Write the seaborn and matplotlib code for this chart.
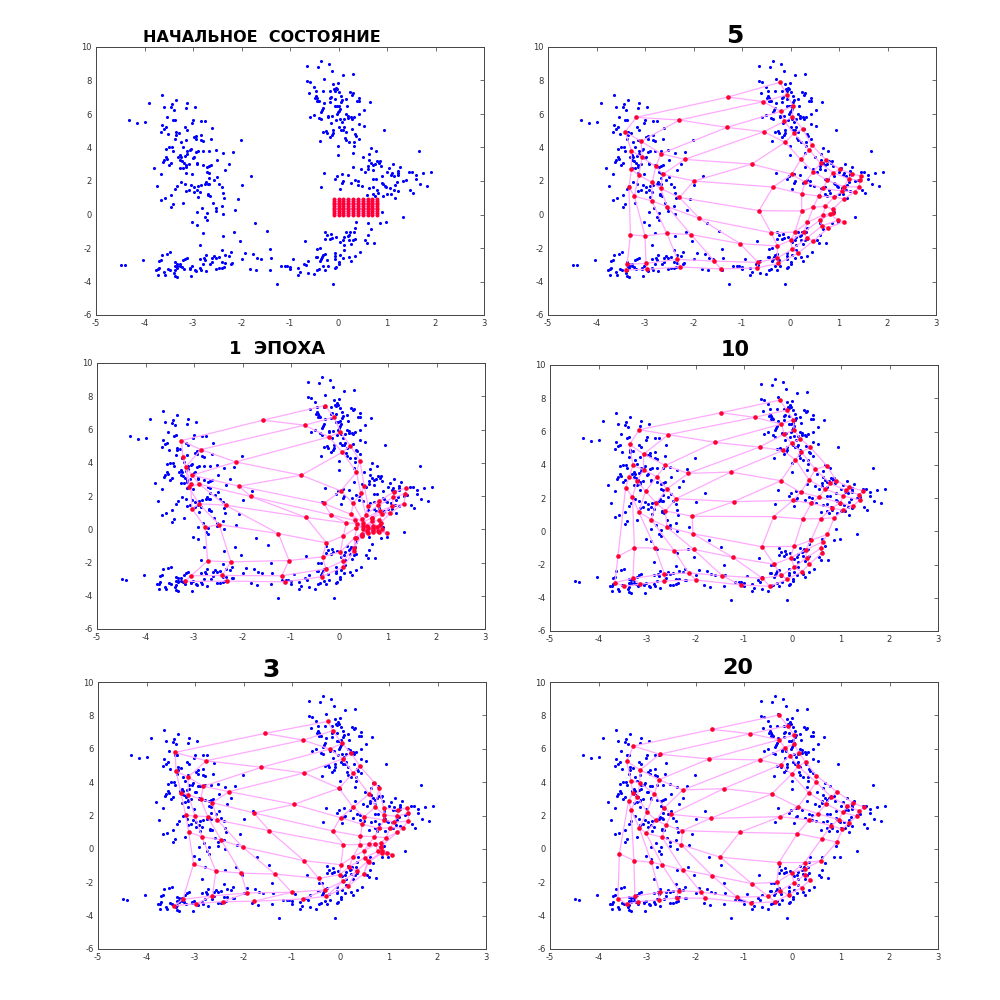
import pandas as pd
import numpy as np
import matplotlib
matplotlib.use("Agg")
import matplotlib.pyplot as plt
import seaborn as sns

# blue samples
blob_left = [(-3.63,7.14),(-3.91,6.64),(-3.36,6.86),(-3.59,6.44),(-3.43,6.6),(-3.45,6.4),(-3.39,6.26),(-3.13,6.64),(-3.15,6.36),(-2.95,6.44),
(-3.53,5.84),(-4.32,5.62),(-4.15,5.44),(-3.99,5.5),(-3.41,5.62),(-3.38,5.64),(-3.64,5.36),(-3.55,5.2),(-3.59,5.1),(-3.66,4.94),
(-3.51,4.78),(-3.36,4.9),(-3.36,4.74),(-3.29,4.84),(-3.16,5.2),(-3.12,5.06),(-3.03,5.46),(-3,5.64),(-2.84,5.6),(-2.76,5.6),
(-2.61,5.16),(-2.93,4.7),(-2.84,4.76),(-2.98,4.6),(-2.94,4.5),(-2.84,4.42),(-2.79,4.36),(-2.63,4.5),(-3.37,4.48),(-3.14,4.44),
(-3.24,4.3),(-3.2,4.04),(-2.01,4.42),(-3.5,4),(-3.43,4),(-3.55,3.9),(-3.42,3.8),(-3.05,3.94),(-3.07,3.84),(-3.12,3.8),
(-2.93,3.76),(-2.89,3.78),(-2.79,3.82),(-2.68,3.8),(-2.52,3.88),(-2.38,3.7),(-2.18,3.74),(-3.56,3.46),(-3.53,3.34),(-3.6,3.26),
(-3.61,3.14),(-3.31,3.44),(-3.27,3.56),(-3.24,3.46),(-3.17,3.5),(-3.13,3.6),(-3.27,3.26),(-3.23,3.2),(-2.98,3.42),(-3,3.38),
(-2.51,3.28),(-3.49,2.96),(-3.45,3.08),(-3.26,2.76),(-3.21,2.8),(-3.8,2.8),(-3.18,3.1),(-3.15,2.94),(-3.14,2.84),(-3.08,3.0),
(-2.92,3.06),(-2.92,3.0),(-2.79,2.94),(-2.71,2.86),(-2.67,2.9),(-2.62,2.96),(-2.25,3.04),(-2.34,2.66),(-3.65,2.44),(-3.14,2.5),
(-3.03,2.4),(-2.71,2.56),(-2.66,2.5),(-2.51,2.26),(-1.81,2.28),(-2.68,2.16),(-2.57,2.06),(-2.47,1.84),(-3.75,1.72),(-3.25,1.96),
(-3.32,1.68),(-3.17,1.8),(-3.04,1.76),(-3.38,1.52),(-2.89,1.68),(-2.84,1.74),(-2.97,1.62),(-2.76,1.8),(-2.73,1.94),(-2.69,1.84),
(-2.66,1.8),(-2.41,1.66),(-2,1.78),(-3.09,1.48),(-3.14,1.42),(-2.97,1.32),(-2.92,1.46),(-2.85,1.34),(-2.9,1.06),(-2.69,1.2),
(-2.7,1.16),(-2.64,1.12),(-2.38,1.26),(-2.37,1),(-3.45,1.16),(-3.57,0.96),(-3.65,0.88),(-2.08,0.92),(-3.2,0.7),(-2.59,0.66),
(-2.53,0.4),(-2.4,0.52),(-3.41,0.6),(-3.45,0.44),(-2.82,0.36),(-2.52,0.18),(-2.91,0.14),(-2.71,0.1),(-2.38,0.02),(-2.14,0.24),
(-2.75,-0.14),(-2.72,-0.3),(-3.02,-0.44),(-2.91,-0.6),(-1.73,-0.5),(-2.79,-1.08),(-2.38,-1.28),(-2.16,-1.06),(-1.48,-0.96),(-2.03,-1.56),
(-2.85,-1.82),(-1.42,-2.04)]

blob_bottom_left = [(-4.48,-3.02),(-4.4,-3.04),(-4.03,-2.74),(-3.63,-2.4),(-3.53,-2.34),(-3.47,-2.26),(-3.71,-2.8),(-3.65,-2.74),(-3.71,-3.2),(-3.73,-3.28),
(-3.76,-3.3),(-3.59,-3.46),(-3.73,-3.62),(-3.58,-3.6),(-3.52,-3.26),(-3.48,-3.32),(-3.37,-2.86),(-3.33,-2.94),(-3.27,-2.96),(-3.38,-3.1),
(-3.33,-3.1),(-3.27,-3.1),(-3.34,-3.2),(-3.37,-3.34),(-3.39,-3.5),(-3.38,-3.68),(-3.33,-3.74),(-3.21,-2.74),(-3.17,-2.66),(-3.13,-2.58),
(-3.22,-3.16),(-3.18,-3.28),(-3.07,-3.2),(-3.03,-3.1),(-3.05,-3.7),(-3.06,-3.26),(-2.95,-3.3),(-2.93,-3.36),(-2.86,-3.18),(-2.84,-3.32),
(-2.73,-3.4),(-2.79,-2.98),(-2.85,-2.64),(-2.78,-2.6),(-2.75,-2.7),(-2.73,-2.4),(-2.64,-2.98),(-2.61,-2.6),(-2.57,-2.46),(-2.53,-2.6),
(-2.47,-2.52),(-2.41,-2.12),(-2.6,-2.84),(-2.52,-3.26),(-2.47,-3.22),(-2.41,-3.18),(-2.36,-3.12),(-2.41,-2.86),(-2.33,-2.9),(-2.34,-2.4),
(-2.26,-2.48),(-2.21,-2.26),(-2.22,-2.94),(-2.19,-2.92),(-2,-2.64),(-1.92,-2.32),(-1.82,-3.24),(-1.76,-2.38),(-1.7,-3.34),(-1.68,-2.6),
(-1.59,-2.66),(-1.41,-3.32),(-1.39,-2.62),(-1.27,-4.16)]

blob_top = [(-0.64,8.88),(-0.36,9.18),(-0.43,8.78),(-0.2,8.98),(-0.13,8.56),(0.1,8.34),(0.29,8.36),(-0.29,8.08),(-0.64,7.98),(-0.59,7.9),
(-0.12,7.78),(-0.01,7.86),(-0.5,7.64),(-0.06,7.58),(-0.03,7.5),(-0.1,7.5),(-0.47,7.38),(-0.6,7.26),(-0.32,7.36),(-0.17,7.36),
(-0.08,7.4),(0.01,7.3),(0.23,7.3),(0.29,7.24),(0.27,7.16),(0.05,7.08),(-0.47,7.06),(-0.49,6.94),(-0.45,6.96),(-0.43,6.8),
(-0.4,6.76),(-0.45,6.78),(-0.15,7),(-0.18,6.94),(-0.08,6.92),(0.16,6.88),(0.08,6.82),(0.06,6.7),(-0.18,6.72),(-0.29,6.66),
(0.42,6.98),(0.42,6.78),(0.38,6.76),(0.64,6.72),(0.18,6.5),(-0.03,6.46),(0.02,6.5),(-0.08,6.46),(0.53,6.26),(-0.32,6.36),
(-0.34,6.24),(-0.36,6.12),(0.03,6.32),(0.02,6.2),(-0.01,6.1),(-0.04,6),(0.43,5.98),(0.15,5.98),(-0.58,5.84),(-0.5,5.96),
(-0.22,5.9),(-0.21,5.84),(-0.13,5.88),(-0.4,5.76),(-0.36,5.68),(0.19,5.9),(0.2,5.76),(0.25,5.8),(0.31,5.82),(0.27,5.7),
(0.03,5.7),(-0.05,5.64),(0.11,5.7),(0.08,5.5),(-0.15,5.46),(0.42,5.38),(0.53,5.26),(0,5.2),(0.11,5.2),(0.06,5.06),
(0.09,5.06),(0.28,5.1),(0.94,5.06),(-0.32,4.94),(-0.26,5),(-0.24,4.88),(-0.12,5.06),(-0.12,4.88),(-0.14,4.74),(-0.17,4.62),
(0.16,4.9),(0.34,4.78),(0.36,4.68),(0.14,4.58),(0.42,4.52),(-0.39,4.38),(0.16,4.42),(0.22,4.3),(0.32,4.3),(0.32,4.06),
(-0.01,4.08),(-0.01,3.58),(0.29,3.68)]

blob_right = [(0.68,3.96),(0.77,3.78),(0.62,3.62),(0.51,3.42),(1.66,3.8),(0.62,3.24),(0.68,3.06),(0.79,3.18),(0.83,3.1),(0.86,3.18),
(0.75,3.02),(0.6,2.88),(0.6,2.74),(0.72,2.94),(0.72,2.66),(0.47,2.7),(0.54,2.56),(0.29,2.84),(0.88,2.88),(1.12,3.04),
(1.27,2.86),(1.05,2.78),(1,2.56),(1.11,2.5),(1.22,2.62),(1.22,2.5),(1.08,2.34),(1.14,2.3),(1.23,2.36),(0.9,2.28),
(1.46,2.56),(1.52,2.54),(1.6,2.38),(1.6,2.12),(1.75,2.5),(1.9,2.56),(1.4,2.08),(1.32,2.02),(1.21,1.92),(1.17,1.76),
(-0.29,2.46),(-0.04,2.3),(-0.08,2.14),(0.08,2.42),(0.19,2.34),(0.1,2),(0.08,1.9),(0.26,1.88),(0.35,2.08),(0.4,2.02),
(0.4,1.76),(0.48,1.7),(0.71,2.1),(0.77,2.1),(0.63,1.6),(0.71,1.66),(0.9,1.88),(0.91,1.82),(0.95,1.7),(0.97,1.62),
(1.07,1.6),(0.79,1.48),(1.14,1.46),(1.23,1.4),(-0.36,1.64),(0.04,1.54),(0.72,1.24),(0.75,1.1),(0.82,1.26),(0.58,1.14),
(0.92,1.1),(1.01,1.24),(1.08,1.24),(1.17,1),(1.68,1.8),(1.83,1.7),(1.47,1.48),(1.54,1.28),(0.89,0.16),(1.34,-0.14)]

blob_bottom = [(0.36,-0.46),(0.6,-0.48),(0.85,-0.5),(0.98,-0.46),(0.33,-0.78),(0.66,-0.86),(-0.27,-1.02),(0.16,-1.02),(0.24,-1.06),(0.32,-1.06),
(-0.23,-1.24),(-0.16,-1.16),(0.21,-1.2),(0.19,-1.26),(0.6,-1.24),(-0.28,-1.44),(-0.18,-1.46),(-0.14,-1.38),(-0.05,-1.32),(0.11,-1.36),
(0.1,-1.54),(0.21,-1.5),(0.3,-1.54),(0.34,-1.46),(0.55,-1.54),(-0.7,-1.58),(0.03,-1.64),(0.58,-1.7),(0.73,-1.72),(0.11,-1.82),
(0.26,-1.78),(-0.45,-2.06),(-0.39,-2.02),(0.11,-2.14),(0.45,-2.26),(-0.27,-2.34),(-0.32,-2.4),(-0.08,-2.3),(-0.47,-2.52),(-0.44,-2.52),
(-0.34,-2.54),(-0.36,-2.66),(-0.38,-2.78),(-0.08,-2.5),(-0.08,-2.64),(0.04,-2.44),(0.1,-2.62),(0.21,-2.56),(0.33,-2.46),(0.26,-2.78),
(-0.23,-2.7),(-0.93,-2.68),(-0.62,-2.78),(-0.71,-2.94),(-0.68,-3.04),(0.02,-2.86),(0.01,-2.98),(-1.18,-3.08),(-1.1,-3.06),(-1.07,-3.06),
(-0.99,-3.14),(-0.99,-3.28),(-0.84,-3.2),(-0.79,-3.44),(-0.84,-3.62),(-0.62,-3.5),(-0.51,-3.58),(-0.45,-3.3),(-0.41,-3.24),(-0.32,-3.1),
(-0.22,-3.06),(-0.28,-3.3),(-0.06,-3.16),(-0.08,-3.22),(-0.12,-4.14)]

# red map nodes, 10 rows of 10
init_x = [-0.1, 0.0, 0.1, 0.2, 0.3, 0.4, 0.5, 0.6, 0.7, 0.8]
init_y = [0.0, 0.1, 0.2, 0.3, 0.4, 0.5, 0.6, 0.7, 0.8, 0.9]

nodes_1 = [
[(-0.30,7.44),(-0.11,6.74),(0.02,5.86),(0.22,5.03),(0.42,4.13),(0.51,2.61),(0.59,1.39),(0.82,1.69),(1.12,2.25),(1.38,2.49)],
[(-1.58,6.56),(-0.72,6.26),(-0.22,5.55),(0.06,4.63),(0.35,3.43),(0.44,2.17),(0.54,0.87),(0.80,1.45),(1.11,1.91),(1.36,2.15)],
[(-3.26,5.33),(-2.86,4.79),(-2.14,4.05),(-0.79,3.25),(0.03,2.31),(0.28,1.55),(0.47,0.59),(0.83,1.09),(1.09,1.39),(1.33,1.53)],
[(-3.23,4.37),(-3.17,3.75),(-3.04,3.25),(-2.07,2.59),(-0.32,1.55),(0.24,0.89),(0.48,0.40),(0.66,0.69),(0.88,0.93),(1.05,0.99)],
[(-3.07,2.73),(-3.11,2.55),(-2.89,2.71),(-1.83,1.97),(-0.18,0.87),(0.32,0.53),(0.48,0.19),(0.68,0.49),(0.82,0.53),(0.85,0.40)],
[(-3.04,1.23),(-2.90,1.53),(-2.35,1.45),(-0.69,0.71),(0.14,0.38),(0.37,0.34),(0.49,0.00),(0.70,0.20),(0.83,0.26),(0.88,0.00)],
[(-2.77,0.12),(-2.48,0.28),(-1.26,-0.26),(-0.27,-0.82),(0.08,-0.40),(0.35,0.10),(0.57,0.20),(0.70,-0.06),(0.82,-0.14),(0.98,-0.24)],
[(-2.72,-1.90),(-2.24,-1.96),(-1.04,-1.88),(-0.35,-1.66),(0.02,-1.36),(0.32,-0.50),(0.46,-0.26),(0.57,-0.10),(0.70,0.06),(0.80,-0.10)],
[(-3.06,-2.80),(-2.42,-2.78),(-1.19,-2.80),(-0.28,-2.38),(0.08,-1.90),(0.30,-1.10),(0.46,-0.40),(0.59,0.10),(0.68,0.65),(0.77,0.14)],
[(-3.19,-3.14),(-2.31,-3.12),(-1.12,-3.16),(-0.37,-2.86),(0.08,-2.26),(0.30,-1.30),(0.34,-0.50),(0.46,-0.34),(0.59,-0.20),(0.70,-0.14)]]

nodes_3 = [
[(-0.26,7.64),(-0.16,7.08),(0.03,6.32),(0.22,5.74),(0.40,4.95),(0.70,3.97),(0.79,3.65),(0.89,2.45),(1.19,2.33),(1.38,2.47)],
[(-1.56,6.92),(-0.77,6.52),(-0.22,5.98),(0.05,5.40),(0.26,4.55),(0.59,3.29),(0.72,2.51),(0.90,2.03),(1.17,1.95),(1.40,2.15)],
[(-3.41,5.78),(-2.77,5.28),(-1.63,4.89),(-0.75,4.55),(-0.03,3.63),(0.26,2.49),(0.49,1.93),(0.90,1.73),(1.10,1.59),(1.40,1.67)],
[(-3.39,4.66),(-3.14,4.30),(-2.83,3.75),(-2.30,3.43),(-0.96,2.67),(0.00,1.87),(0.45,1.47),(0.80,1.23),(1.03,1.27),(1.28,1.25)],
[(-3.29,3.35),(-3.14,3.25),(-2.88,2.97),(-2.64,2.77),(-1.78,2.15),(-0.16,1.07),(0.41,0.77),(0.70,0.73),(0.94,0.67),(1.17,0.99)],
[(-3.19,2.01),(-3.00,1.97),(-2.74,1.93),(-2.54,1.73),(-1.47,1.09),(0.06,0.25),(0.40,0.25),(0.59,0.31),(0.83,0.33),(0.83,0.13)],
[(-3.13,1.01),(-2.86,0.73),(-2.46,0.53),(-2.02,0.11),(-0.75,-0.71),(0.01,-0.95),(0.26,-0.47),(0.48,-0.13),(0.72,0.27),(0.83,0.09)],
[(-3.03,-0.91),(-2.57,-1.33),(-2.05,-1.45),(-1.35,-1.51),(-0.45,-1.77),(-0.02,-1.55),(0.18,-1.07),(0.50,-0.53),(0.77,-0.15),(0.96,-0.23)],
[(-3.25,-3.02),(-2.64,-2.82),(-1.93,-2.64),(-1.01,-2.60),(-0.32,-2.46),(0.05,-1.94),(0.33,-1.34),(0.56,-0.74),(0.85,-0.26),(1.06,-0.34)],
[(-3.43,-3.40),(-2.97,-3.28),(-2.42,-3.16),(-1.78,-3.14),(-0.77,-3.00),(-0.29,-2.84),(0.15,-2.24),(0.48,-1.50),(0.58,-0.78),(0.85,-0.14)]]

nodes_5 = [
[(-0.22,7.89),(-0.07,7.15),(0.05,6.48),(0.04,5.84),(0.25,5.10),(0.44,4.15),(0.73,3.27),(1.02,2.70),(1.27,2.42),(1.46,2.30)],
[(-1.29,7.01),(-0.56,6.74),(-0.20,6.16),(-0.13,5.56),(0.07,4.85),(0.39,3.85),(0.62,3.05),(0.88,2.50),(1.20,2.12),(1.44,2.04)],
[(-3.18,5.80),(-2.29,5.64),(-1.31,5.20),(-0.55,4.94),(-0.11,4.31),(0.21,3.29),(0.47,2.56),(0.76,2.04),(1.10,1.66),(1.41,1.64)],
[(-3.41,4.94),(-3.08,4.37),(-2.67,3.63),(-2.18,3.29),(-0.80,3.01),(0.03,2.40),(0.30,1.92),(0.67,1.56),(1.06,1.40),(1.33,1.36)],
[(-3.28,3.81),(-3.06,3.41),(-2.78,2.87),(-2.63,2.40),(-1.99,2.00),(-0.36,1.64),(0.23,1.24),(0.58,1.10),(0.90,1.04),(1.10,0.94)],
[(-3.28,2.70),(-3.13,2.34),(-2.85,1.92),(-2.68,1.56),(-2.29,1.02),(-0.65,0.23),(0.23,0.21),(0.47,0.43),(0.72,0.49),(0.87,0.31)],
[(-3.33,1.62),(-3.22,1.10),(-2.86,0.81),(-2.54,0.47),(-1.88,-0.23),(-0.40,-1.09),(0.09,-1.05),(0.35,-0.47),(0.67,-0.03),(0.87,0.07)],
[(-3.30,-1.22),(-3.00,-1.28),(-2.55,-1.12),(-2.05,-1.20),(-1.04,-1.74),(-0.27,-1.88),(0.00,-1.54),(0.27,-1.07),(0.60,-0.35),(0.82,0.01)],
[(-3.37,-2.98),(-2.98,-2.92),(-2.33,-2.68),(-1.57,-2.78),(-0.67,-2.86),(-0.27,-2.60),(0.04,-2.06),(0.34,-1.40),(0.65,-0.67),(0.98,-0.35)],
[(-3.39,-3.31),(-2.95,-3.27),(-2.27,-3.13),(-1.44,-3.25),(-0.69,-3.19),(-0.25,-2.92),(0.15,-2.32),(0.47,-1.58),(0.78,-0.79),(1.10,-0.43)]]

nodes_10 = [
[(-0.26,7.89),(-0.12,7.29),(0.02,6.71),(0.03,6.09),(0.16,5.57),(0.37,5.04),(0.71,3.94),(0.90,3.04),(1.17,2.64),(1.46,2.44)],
[(-1.47,7.13),(-0.78,6.85),(-0.23,6.45),(-0.17,5.85),(-0.02,5.28),(0.18,4.78),(0.47,3.72),(0.78,2.88),(1.10,2.46),(1.38,2.20)],
[(-3.16,6.11),(-2.56,5.81),(-1.60,5.35),(-0.68,5.06),(-0.20,4.86),(0.06,4.30),(0.34,3.10),(0.67,2.54),(1.05,2.12),(1.39,1.88)],
[(-3.36,5.22),(-3.07,4.64),(-2.62,3.96),(-2.15,3.48),(-1.27,3.56),(-0.24,3.04),(0.17,2.34),(0.55,2.06),(0.98,1.72),(1.24,1.50)],
[(-3.29,3.96),(-3.07,3.70),(-2.80,3.28),(-2.59,2.54),(-2.40,1.96),(-1.21,1.78),(0.01,1.86),(0.39,1.68),(0.82,1.40),(1.04,1.26)],
[(-3.37,3.26),(-3.20,3.04),(-3.03,2.40),(-2.81,1.70),(-2.62,1.22),(-2.07,0.90),(-0.39,0.88),(0.21,0.74),(0.58,0.76),(0.86,0.80)],
[(-3.44,2.62),(-3.30,2.06),(-3.17,1.16),(-2.91,0.70),(-2.59,0.25),(-2.05,-0.15),(-0.63,-0.93),(0.03,-0.91),(0.38,-0.55),(0.72,-0.19)],
[(-3.60,-1.51),(-3.26,-0.99),(-2.83,-1.01),(-2.44,-1.17),(-2.04,-1.09),(-1.23,-1.57),(-0.38,-1.99),(-0.04,-1.59),(0.27,-1.13),(0.62,-0.63)],
[(-3.66,-3.09),(-3.29,-2.83),(-2.64,-2.57),(-2.14,-2.51),(-1.45,-2.67),(-0.62,-2.83),(-0.23,-2.65),(0.04,-2.17),(0.29,-1.59),(0.58,-1.03)],
[(-3.47,-3.31),(-3.14,-3.19),(-2.64,-2.99),(-1.99,-2.93),(-1.07,-3.23),(-0.47,-3.31),(-0.11,-2.89),(0.19,-2.43),(0.35,-1.97),(0.61,-1.29)]]

nodes_20 = [
[(-0.28,8.02),(-0.10,7.38),(0.03,6.82),(0.03,6.28),(0.13,5.77),(0.27,5.21),(0.49,4.39),(0.92,3.41),(1.24,2.77),(1.48,2.49)],
[(-1.65,7.16),(-0.87,6.90),(-0.28,6.54),(-0.16,6.07),(-0.06,5.59),(0.12,4.95),(0.49,3.99),(0.80,3.11),(1.13,2.57),(1.37,2.29)],
[(-3.28,6.16),(-2.74,5.67),(-1.72,5.39),(-0.68,5.33),(-0.24,5.05),(-0.02,4.47),(0.33,3.37),(0.69,2.69),(1.04,2.19),(1.33,1.95)],
[(-3.42,5.25),(-3.14,4.73),(-2.75,4.15),(-2.26,3.53),(-1.42,3.61),(-0.43,3.29),(0.11,2.51),(0.52,2.11),(0.95,1.75),(1.16,1.57)],
[(-3.33,4.07),(-3.15,3.95),(-2.85,3.31),(-2.64,2.47),(-2.50,2.07),(-1.69,1.83),(-0.25,1.93),(0.34,1.73),(0.80,1.39),(1.03,1.17)],
[(-3.29,3.33),(-3.20,3.13),(-3.00,2.21),(-2.81,1.71),(-2.61,1.43),(-2.27,1.09),(-1.09,0.99),(0.10,0.92),(0.60,0.62),(0.91,0.40)],
[(-3.38,2.89),(-3.33,2.35),(-3.16,1.27),(-3.02,0.94),(-2.69,0.70),(-2.29,0.24),(-1.49,-0.50),(-0.28,-0.82),(0.25,-0.82),(0.58,-0.72)],
[(-3.57,-0.28),(-3.27,-0.70),(-2.91,-0.80),(-2.69,-0.94),(-2.26,-1.26),(-1.66,-1.60),(-0.84,-2.08),(-0.32,-2.00),(-0.02,-1.46),(0.26,-1.18)],
[(-3.60,-2.98),(-3.25,-2.84),(-2.74,-2.60),(-2.35,-2.50),(-1.89,-2.58),(-1.14,-2.90),(-0.50,-2.84),(-0.26,-2.52),(0.03,-2.02),(0.26,-1.56)],
[(-3.42,-3.30),(-3.18,-3.16),(-2.76,-3.06),(-2.39,-2.94),(-1.80,-2.96),(-0.86,-3.24),(-0.36,-3.18),(-0.08,-2.74),(0.19,-2.32),(0.36,-1.88)]]

x_ticks = [-5, -4, -3, -2, -1, 0, 1, 2, 3]
y_ticks = [-6, -4, -2, 0, 2, 4, 6, 8, 10]

nodes_0 = [[(x, y) for x in init_x] for y in init_y]
blue = pd.DataFrame(blob_left + blob_bottom_left + blob_top + blob_right + blob_bottom, columns=["x", "y"])

# title, nodes, panel box in pixels (left, top, right, bottom), title centre in pixels, title size, red size
panels = [
    ("НАЧАЛЬНОЕ  СОСТОЯНИЕ", nodes_0, (96, 47, 484, 315), (262, 38), 11.5, 8),
    ("5", nodes_5, (548, 47, 936, 315), (735, 36), 18, 11),
    ("1  ЭПОХА", nodes_1, (97, 363, 485, 629), (277, 349), 13, 11),
    ("10", nodes_10, (550, 365, 938, 631), (735, 350), 15, 11),
    ("3", nodes_3, (98, 682, 486, 949), (271, 670), 18, 11),
    ("20", nodes_20, (550, 682, 938, 949), (738, 668), 16, 11),
]

sns.set_style("white")
plt.rcParams["axes.unicode_minus"] = False

fig = plt.figure(figsize=(10, 10), dpi=100)

for title, nodes, box, centre, title_size, red_size in panels:
    left, top, right, bottom = box
    ax = fig.add_axes([left / 1000, 1 - bottom / 1000, (right - left) / 1000, (bottom - top) / 1000])
    sns.scatterplot(data=blue, x="x", y="y", color="#0000ff", s=5, linewidth=0, ax=ax, zorder=1)

    grid = np.array(nodes)
    for i in range(10):
        ax.plot(grid[i, :, 0], grid[i, :, 1], color="#ffaaff", lw=0.9, zorder=2)
        ax.plot(grid[:, i, 0], grid[:, i, 1], color="#ffaaff", lw=0.9, zorder=2)
    flat = pd.DataFrame(grid.reshape(-1, 2), columns=["x", "y"])
    sns.scatterplot(data=flat, x="x", y="y", color="#ff0033", s=red_size, linewidth=0, ax=ax, zorder=3)

    ax.set_xlim(-5, 3)
    ax.set_ylim(-6, 10)
    ax.set_xticks(x_ticks)
    ax.set_yticks(y_ticks)
    ax.set_xlabel("")
    ax.set_ylabel("")
    ax.tick_params(direction="in", length=3, width=0.5, labelsize=6, colors="#333333", top=True, right=True, pad=3)
    for spine in ax.spines.values():
        spine.set_color("#444444")
        spine.set_linewidth(0.7)

    fig.text(centre[0] / 1000, 1 - centre[1] / 1000, title, ha="center", va="center",
             fontsize=title_size, fontweight="bold", color="black")

fig.savefig("out.png", dpi=100)
